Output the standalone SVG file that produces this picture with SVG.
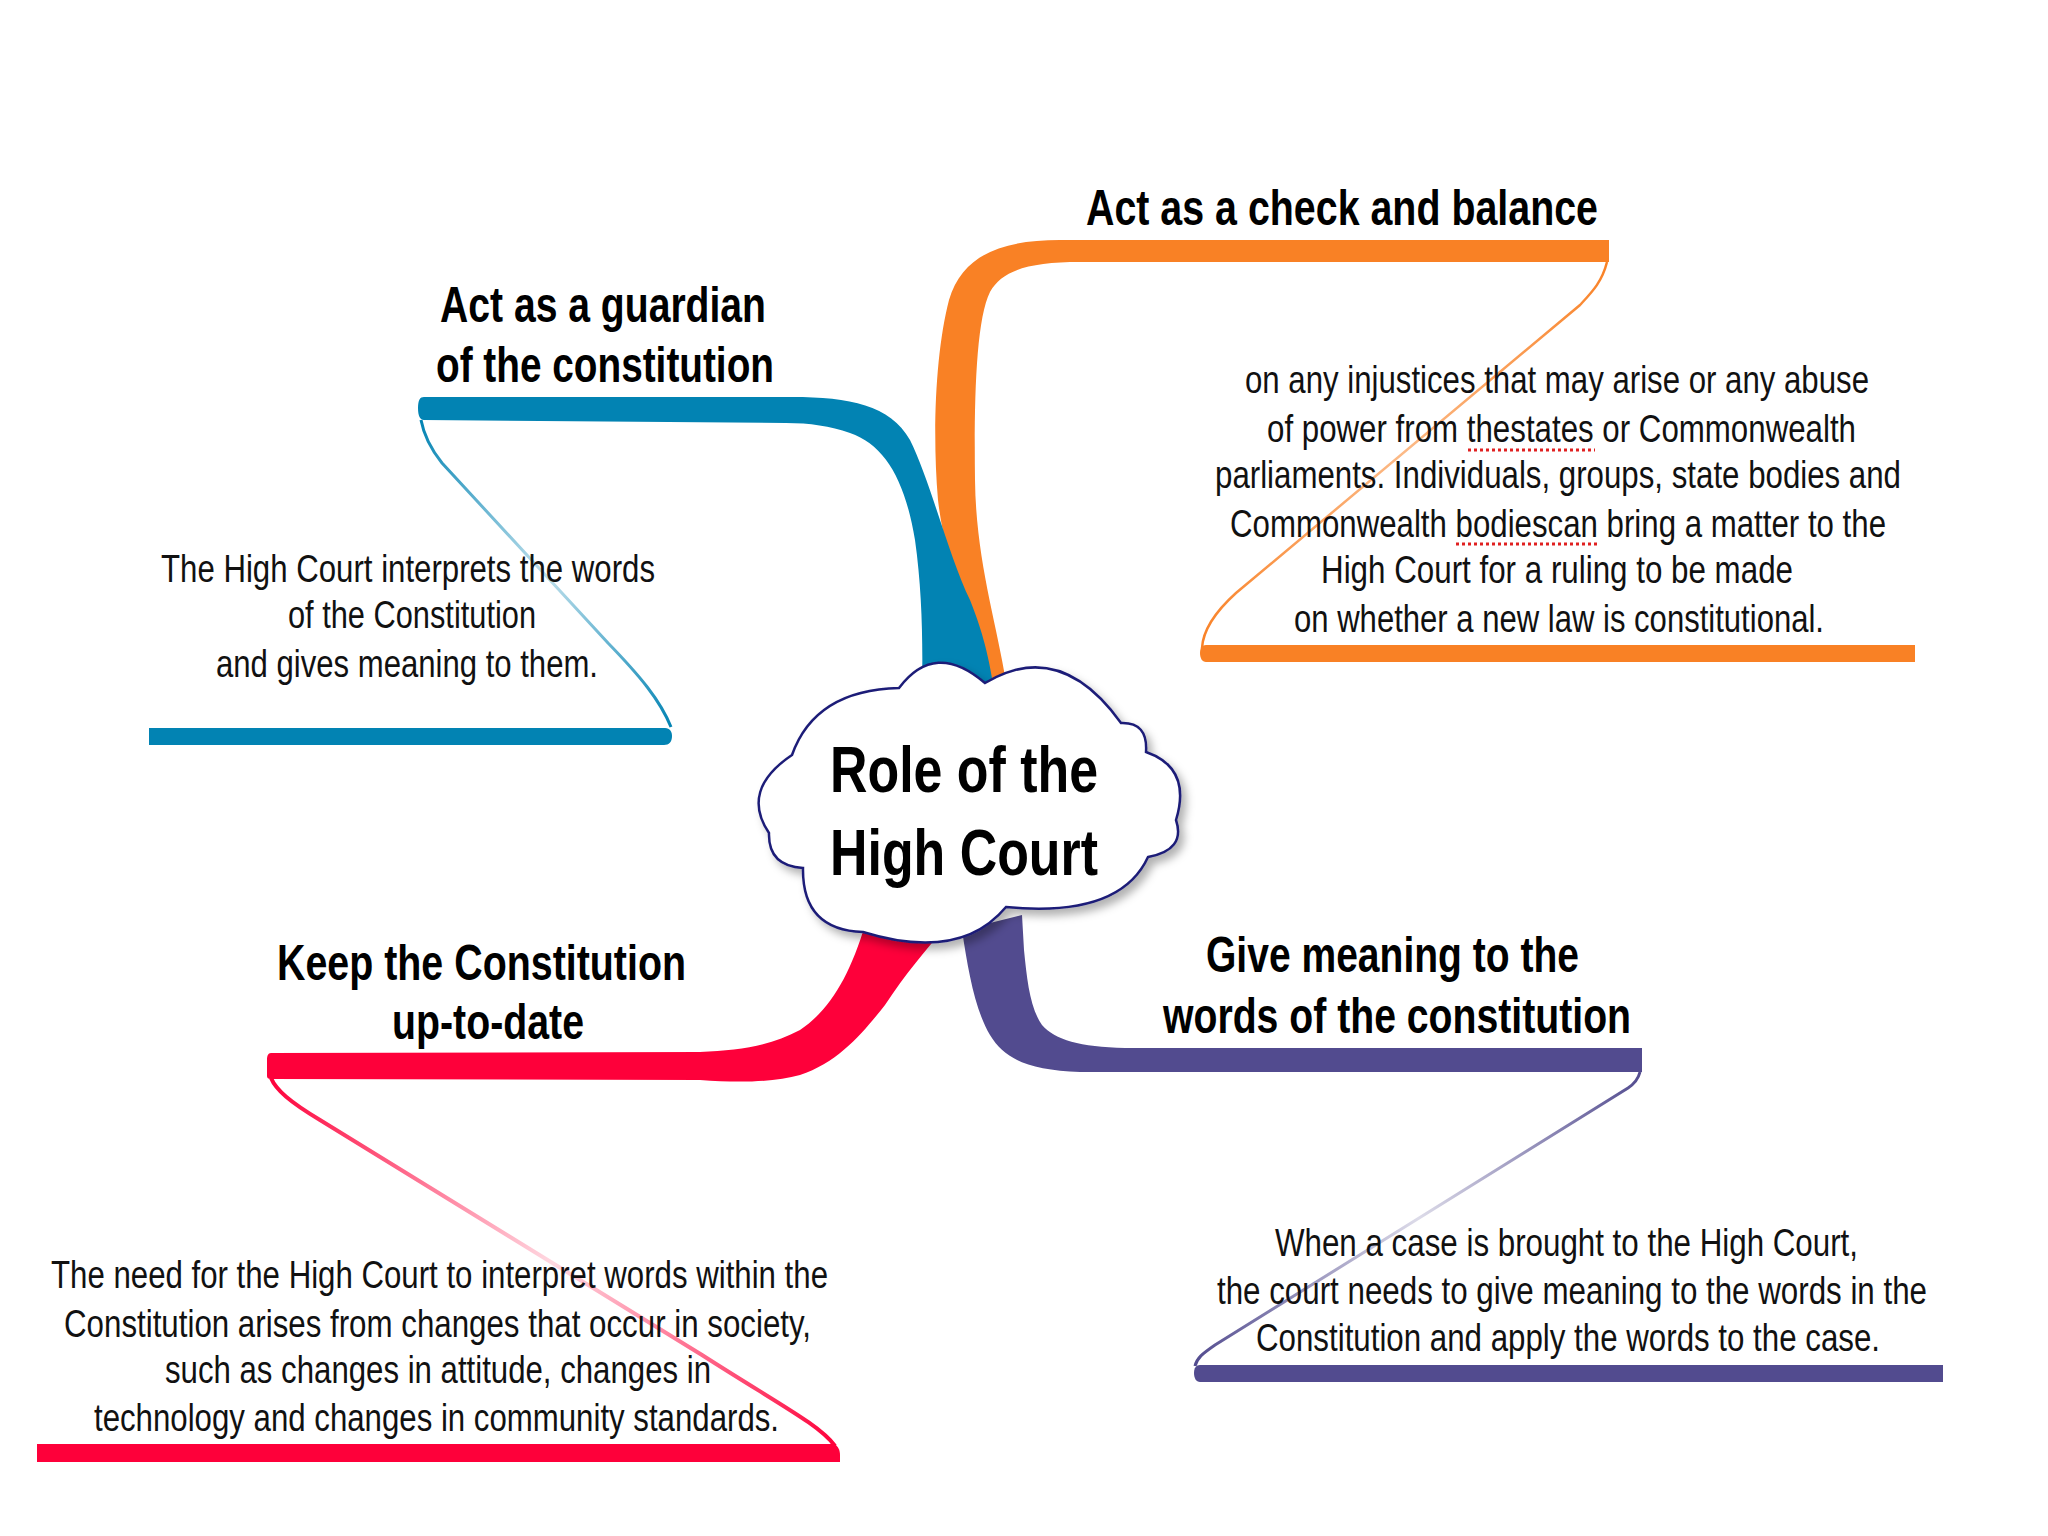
<svg xmlns="http://www.w3.org/2000/svg" width="2048" height="1536" viewBox="0 0 2048 1536">
<defs>
<style>
.lbl{font-family:"Liberation Sans",Arial,sans-serif;font-weight:bold;font-size:50px;fill:#000}
.body{font-family:"Liberation Sans",Arial,sans-serif;font-size:38px;fill:#111}
.core{font-family:"Liberation Sans",Arial,sans-serif;font-weight:bold;font-size:64px;fill:#000}
.spell{stroke:#e02020;stroke-width:3;stroke-dasharray:3 3;fill:none}
</style>
<filter id="sh" x="-10%" y="-10%" width="130%" height="130%">
<feDropShadow dx="5" dy="6" stdDeviation="4" flood-color="#000" flood-opacity="0.3"/>
</filter>
<linearGradient id="gB" gradientUnits="userSpaceOnUse" x1="421" y1="420" x2="671" y2="727">
<stop offset="0" stop-color="#0283b3"/><stop offset="0.5" stop-color="#0283b3" stop-opacity="0.25"/><stop offset="1" stop-color="#0283b3"/>
</linearGradient>
<linearGradient id="gO" gradientUnits="userSpaceOnUse" x1="1607" y1="262" x2="1202" y2="648">
<stop offset="0" stop-color="#f98125"/><stop offset="0.5" stop-color="#f98125" stop-opacity="0.55"/><stop offset="1" stop-color="#f98125"/>
</linearGradient>
<linearGradient id="gR" gradientUnits="userSpaceOnUse" x1="271" y1="1078" x2="835" y2="1446">
<stop offset="0" stop-color="#fe003a"/><stop offset="0.5" stop-color="#fe003a" stop-opacity="0.15"/><stop offset="1" stop-color="#fe003a"/>
</linearGradient>
<linearGradient id="gP" gradientUnits="userSpaceOnUse" x1="1640" y1="1072" x2="1195" y2="1363">
<stop offset="0" stop-color="#524b8f"/><stop offset="0.5" stop-color="#524b8f" stop-opacity="0.2"/><stop offset="1" stop-color="#524b8f"/>
</linearGradient>
</defs>
<rect width="2048" height="1536" fill="#fff"/>

<g id="connectors">
<!-- orange branch -->
<path fill="#f98125" d="M1609,240 L1060,240 C1000,240 962,256 949,300 C936,350 932,430 938,500 C946,570 975,630 990,682 L1006,682 C996,620 976,560 975,480 C974,400 976,320 990,292 C1002,270 1030,262 1080,262 L1609,262 Z"/>
<path fill="none" stroke="url(#gO)" stroke-width="2.5" d="M1607,262 C1602,282 1592,292 1580,305 L1236,593 C1215,612 1203,630 1202,648"/>
<path fill="#f98125" d="M1206,645 L1915,645 L1915,662 L1206,662 C1202,662 1200,658 1200,653 C1200,648 1202,645 1206,645 Z"/>
<!-- blue branch -->
<path fill="#0283b3" d="M424,397 L792,397 C850,397 890,405 910,440 C930,480 950,560 970,600 C980,625 988,650 994,690 L922,690 C923,640 922,590 915,540 C905,480 885,445 850,433 C830,426 810,423 786,423 L424,420 C420,420 418,416 418,408 C418,400 420,397 424,397 Z"/>
<path fill="none" stroke="url(#gB)" stroke-width="3" d="M421,420 C424,436 430,448 442,463 L608,643 C640,676 660,700 671,727"/>
<path fill="#0283b3" d="M149,728 L665,728 C670,728 672,732 672,736 C672,742 669,745 664,745 L149,745 Z"/>
<!-- red branch -->
<path fill="#fe003a" d="M865,925 C850,975 830,1010 800,1030 C770,1046 740,1050 700,1052 L271,1053 C268,1053 267,1056 267,1060 L267,1076 C267,1078 268,1079 271,1079 L700,1080 C740,1083 775,1082 800,1075 C840,1062 865,1030 885,1005 C905,975 925,950 948,925 Z"/>
<path fill="none" stroke="url(#gR)" stroke-width="4" d="M271,1078 C276,1090 290,1102 320,1120 L702,1355 C780,1405 820,1425 835,1446"/>
<path fill="#fe003a" d="M37,1444 L834,1444 C838,1446 840,1450 840,1455 L840,1462 L37,1462 Z"/>
<!-- purple branch -->
<path fill="#524b8f" d="M962,930 C968,970 975,1010 990,1035 C1005,1060 1030,1070 1080,1072 L1642,1072 L1642,1048 L1125,1048 C1080,1047 1055,1040 1042,1025 C1030,1008 1027,980 1024,950 L1022,915 Z"/>
<path fill="none" stroke="url(#gP)" stroke-width="3" d="M1640,1072 C1638,1080 1634,1084 1628,1088 L1215,1345 C1202,1354 1197,1358 1195,1366"/>
<path fill="#524b8f" d="M1200,1365 L1943,1365 L1943,1382 L1200,1382 C1196,1382 1194,1378 1194,1373 C1194,1368 1196,1365 1200,1365 Z"/>
</g>

<g id="core">
<path filter="url(#sh)" fill="#fff" stroke="#1e1e78" stroke-width="2.5" d="M792,755 Q815,690 899,688 Q935,640 985,683 Q1060,638 1121,723 Q1148,722 1146,752 Q1192,768 1176,820 Q1186,850 1148,857 Q1120,918 1006,907 Q960,962 863,932 Q802,930 803,868 Q768,866 769,833 Q740,790 792,755 Z"/>
<text class="core" x="830" y="792" textLength="268" lengthAdjust="spacingAndGlyphs">Role of the</text>
<text class="core" x="830" y="875" textLength="268" lengthAdjust="spacingAndGlyphs">High Court</text>
</g>

<g id="guardian">
<text class="lbl" x="440" y="322" textLength="326" lengthAdjust="spacingAndGlyphs">Act as a guardian</text>
<text class="lbl" x="436" y="382" textLength="338" lengthAdjust="spacingAndGlyphs">of the constitution</text>
<text class="body" x="161" y="582" textLength="494" lengthAdjust="spacingAndGlyphs">The High Court interprets the words</text>
<text class="body" x="288" y="628" textLength="248" lengthAdjust="spacingAndGlyphs">of the Constitution</text>
<text class="body" x="216" y="677" textLength="382" lengthAdjust="spacingAndGlyphs">and gives meaning to them.</text>
</g>

<g id="check">
<text class="lbl" x="1086" y="225" textLength="512" lengthAdjust="spacingAndGlyphs">Act as a check and balance</text>
<text class="body" x="1245" y="393" textLength="624" lengthAdjust="spacingAndGlyphs">on any injustices that may arise or any abuse</text>
<text class="body" x="1267" y="442" textLength="589" lengthAdjust="spacingAndGlyphs">of power from thestates or Commonwealth</text>
<text class="body" x="1215" y="488" textLength="686" lengthAdjust="spacingAndGlyphs">parliaments. Individuals, groups, state bodies and</text>
<text class="body" x="1230" y="537" textLength="656" lengthAdjust="spacingAndGlyphs">Commonwealth bodiescan bring a matter to the</text>
<text class="body" x="1321" y="583" textLength="472" lengthAdjust="spacingAndGlyphs">High Court for a ruling to be made</text>
<text class="body" x="1294" y="632" textLength="530" lengthAdjust="spacingAndGlyphs">on whether a new law is constitutional.</text>
<line class="spell" x1="1468" y1="450" x2="1595" y2="450"/>
<line class="spell" x1="1456" y1="544" x2="1598" y2="544"/>
</g>

<g id="uptodate">
<text class="lbl" x="277" y="980" textLength="409" lengthAdjust="spacingAndGlyphs">Keep the Constitution</text>
<text class="lbl" x="392" y="1039" textLength="192" lengthAdjust="spacingAndGlyphs">up-to-date</text>
<text class="body" x="51" y="1288" textLength="777" lengthAdjust="spacingAndGlyphs">The need for the High Court to interpret words within the</text>
<text class="body" x="64" y="1337" textLength="747" lengthAdjust="spacingAndGlyphs">Constitution arises from changes that occur in society,</text>
<text class="body" x="165" y="1383" textLength="546" lengthAdjust="spacingAndGlyphs">such as changes in attitude, changes in</text>
<text class="body" x="94" y="1431" textLength="685" lengthAdjust="spacingAndGlyphs">technology and changes in community standards.</text>
</g>

<g id="meaning">
<text class="lbl" x="1206" y="972" textLength="373" lengthAdjust="spacingAndGlyphs">Give meaning to the</text>
<text class="lbl" x="1163" y="1033" textLength="468" lengthAdjust="spacingAndGlyphs">words of the constitution</text>
<text class="body" x="1275" y="1256" textLength="583" lengthAdjust="spacingAndGlyphs">When a case is brought to the High Court,</text>
<text class="body" x="1217" y="1304" textLength="710" lengthAdjust="spacingAndGlyphs">the court needs to give meaning to the words in the</text>
<text class="body" x="1256" y="1351" textLength="624" lengthAdjust="spacingAndGlyphs">Constitution and apply the words to the case.</text>
</g>
</svg>
